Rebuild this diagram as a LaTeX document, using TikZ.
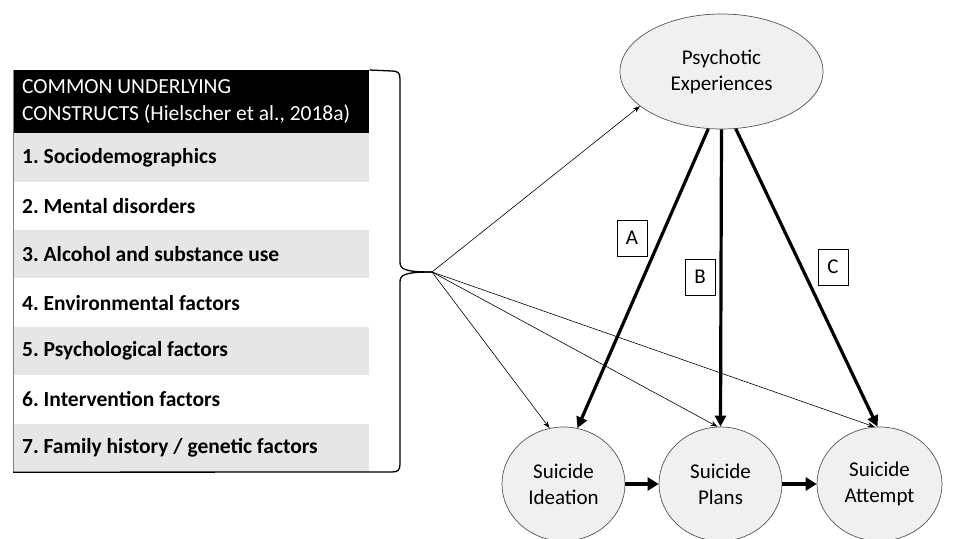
\documentclass[tikz,border=0pt]{standalone}
\usepackage{fontspec}
\setmainfont{Carlito}
\usetikzlibrary{positioning,arrows.meta,shapes.geometric}
\definecolor{rowgray}{RGB}{230,230,230}
\definecolor{ellfill}{RGB}{240,240,240}
\definecolor{ellline}{RGB}{85,85,85}
\frenchspacing
\tikzset{
  txtfont/.style={font=\fontsize{21.5}{27}\selectfont},
  plainspace/.style={execute at begin node={\spaceskip=0pt\xspaceskip=0pt}},
  headbox/.style={txtfont, plainspace, anchor=north west, fill=black, text=white, text width=338pt, align=left, inner xsep=9pt, inner ysep=0pt, minimum height=63pt},
  rowbox/.style={font=\fontsize{21.5}{27}\selectfont\bfseries, plainspace, anchor=north west, text width=338pt, align=left, inner xsep=9pt, inner ysep=0pt, minimum height=48.4pt},
  bigell/.style={ellipse, draw=ellline, line width=0.7pt, fill=ellfill, inner sep=0pt, align=center, font=\fontsize{21}{26}\selectfont},
  labbox/.style={draw, line width=0.7pt, minimum width=30pt, minimum height=36pt, inner sep=0pt, font=\fontsize{21}{26}\selectfont},
  thinarrow/.style={line width=0.6pt, -{Stealth[length=7pt,width=5pt]}},
  thickarrow/.style={line width=3.2pt, -{Triangle[length=11pt,width=11pt]}},
  steparrow/.style={line width=4.5pt, -{Triangle[length=11pt,width=13pt]}},
  bracket/.style={line width=1.3pt}
}
\begin{document}
\begin{tikzpicture}[x=1pt,y=1pt,yscale=-1,xscale=1]
        \useasboundingbox (0,0) rectangle (966,538);
        \clip (0,0) rectangle (966,538);

        \node[headbox] (head) at (13,70) {COMMON UNDERLYING\\CONSTRUCTS (Hielscher et al., 2018a)};
        \foreach \fc/\txt [count=\i] in {rowgray/{1. Sociodemographics}, white/{2. Mental disorders}, rowgray/{3. Alcohol and substance use}, white/{4. Environmental factors}, rowgray/{5. Psychological factors}, white/{6. Intervention factors}, rowgray/{7. Family history / genetic factors}}
          \node[rowbox, fill=\fc] (row\i) at (13,{133+(\i-1)*48.4}) {\txt};
        \draw[gray, line width=0.6pt] (head.north west) -- (row7.south west);

        \coordinate (fan) at (432,272);
        \draw[bracket] (row7.south west) -- (392,472) .. controls (398,472) and (400,470) .. (400,464) -- (400,282) .. controls (400,275) and (404,272) .. (fan);
        \draw[bracket] (head.north east) -- (392,71) .. controls (398,71) and (400,73) .. (400,79) -- (400,262) .. controls (400,269) and (404,272) .. (fan);

        \node[bigell, minimum width=203pt, minimum height=115pt] (pe) at (721.5,71.5) {Psychotic\\Experiences};
        \node[bigell, minimum width=123pt, minimum height=114pt] (si) at (563.5,484) {Suicide\\Ideation};
        \node[bigell, minimum width=123pt, minimum height=114pt] (sp) at (720.5,484) {Suicide\\Plans};
        \node[bigell, minimum width=125pt, minimum height=114pt] (sa) at (879.5,484) {Suicide\\Attempt};

        \draw[thinarrow] (fan) -- (pe.203);
        \draw[thinarrow] (fan) -- (si.104);
        \draw[thinarrow] (fan) -- (sp.93);
        \draw[thinarrow] (fan) -- (sa.95);

        \draw[thickarrow] (pe.257) -- (si.76);
        \draw[thickarrow] (pe.south) -- (sp.north);
        \draw[thickarrow] (pe.284) -- (sa.92);

        \draw[steparrow] (si) -- (sp);
        \draw[steparrow] (sp) -- (sa);

        \node[labbox, fill=white] (labA) at (632,238) {A};
        \node[labbox, fill=white] (labB) at (700,277) {B};
        \node[labbox, fill=white] (labC) at (833,267) {C};
\end{tikzpicture}
\end{document}
